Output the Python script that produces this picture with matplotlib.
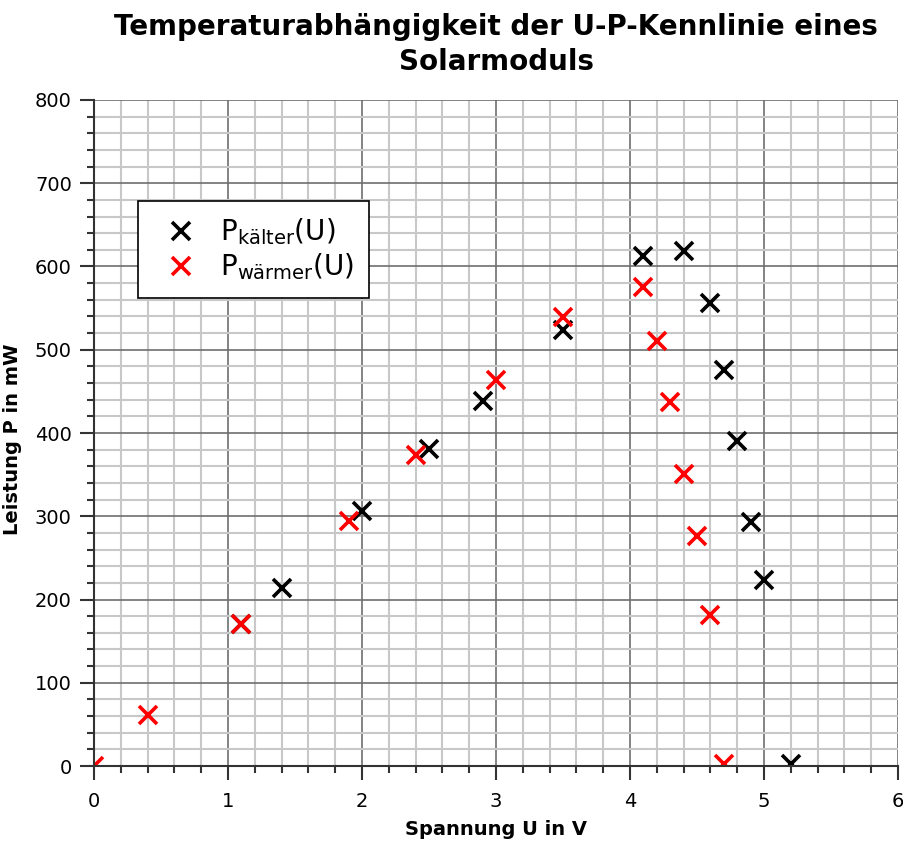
import matplotlib.pyplot as plt
from matplotlib.ticker import MultipleLocator

# Messwerte: Spannung in V, Leistung in mW
u_kalt = [1.1, 1.4, 2.0, 2.5, 2.9, 3.5, 4.1, 4.4, 4.6, 4.7, 4.8, 4.9, 5.0, 5.2]
p_kalt = [170, 214, 306, 381, 438, 524, 613, 619, 556, 476, 390, 293, 223, 2]

u_warm = [0.0, 0.4, 1.1, 1.9, 2.4, 3.0, 3.5, 4.1, 4.2, 4.3, 4.4, 4.5, 4.6, 4.7]
p_warm = [0, 61, 171, 294, 374, 464, 539, 575, 510, 437, 351, 276, 181, 2]

fig = plt.figure(figsize=(9.04, 8.43), dpi=100)
ax = fig.add_axes([0.104, 0.0913, 0.8894, 0.7901])

ax.plot(u_kalt, p_kalt, ls='none', marker='x', color='black', ms=13, mew=2.6,
        label=r'$\mathregular{P_{kälter}(U)}$')
ax.plot(u_warm, p_warm, ls='none', marker='x', color='#ff0000', ms=13, mew=2.6,
        label=r'$\mathregular{P_{wärmer}(U)}$')

ax.set_xlim(0, 6)
ax.set_ylim(0, 800)
ax.xaxis.set_major_locator(MultipleLocator(1))
ax.xaxis.set_minor_locator(MultipleLocator(0.2))
ax.yaxis.set_major_locator(MultipleLocator(100))
ax.yaxis.set_minor_locator(MultipleLocator(20))

ax.grid(which='minor', color='#c8c8c8', lw=1.5)
ax.grid(which='major', color='#6e6e6e', lw=1.2)
ax.set_axisbelow(True)

for s in ['top', 'right']:
    ax.spines[s].set_visible(False)
for s in ['left', 'bottom']:
    ax.spines[s].set_linewidth(1.5)
    ax.spines[s].set_color('#333333')

ax.tick_params(which='major', length=10, width=1.5, color='#333333', labelsize=14)
ax.tick_params(which='minor', length=5, width=1.5, color='#333333')
ax.tick_params(axis='x', which='major', pad=9)
ax.tick_params(axis='y', which='major', pad=6)

ax.set_xlabel('Spannung U in V', fontsize=14, fontweight='bold')
ax.xaxis.set_label_coords(0.5, -0.081)
ax.set_ylabel('Leistung P in mW', fontsize=14, fontweight='bold')
ax.yaxis.set_label_coords(-0.09, 0.49)
fig.suptitle('Temperaturabhängigkeit der U-P-Kennlinie eines\nSolarmoduls',
             x=0.549, y=0.984, va='top', fontsize=20, fontweight='bold',
             linespacing=1.3)

leg = ax.legend(loc='upper left', bbox_to_anchor=(0.0547, 0.848), borderaxespad=0,
                fontsize=20, fancybox=False, framealpha=1, edgecolor='black',
                handletextpad=0.4, borderpad=0.55, labelspacing=0.15)
leg.get_frame().set_linewidth(1.2)

fig.savefig('out.png', dpi=100)
